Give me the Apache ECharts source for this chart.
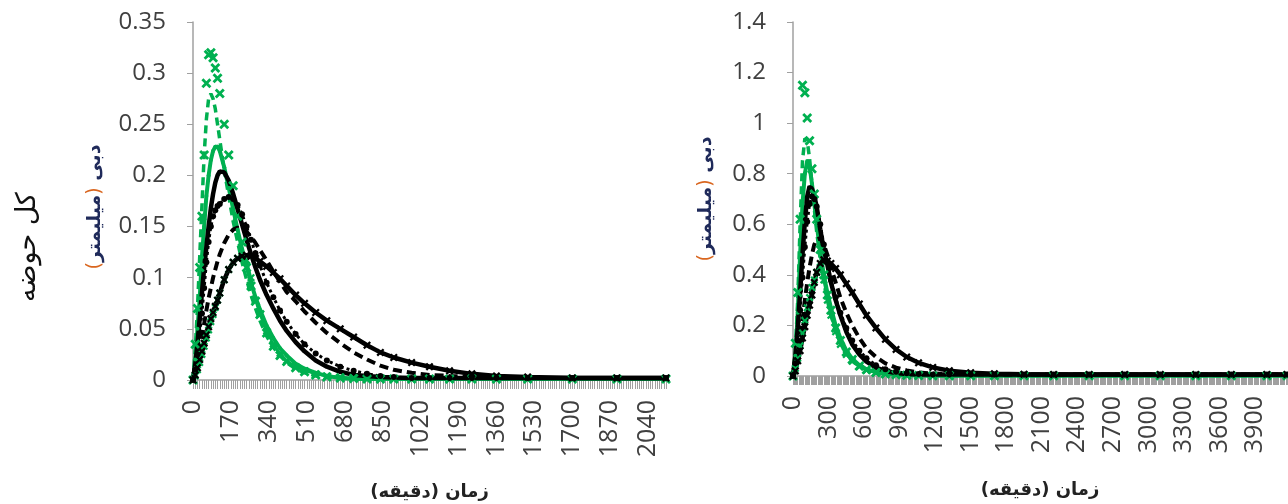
<!DOCTYPE html>
<html>
<head>
<meta charset="utf-8">
<script src="https://cdn.jsdelivr.net/npm/echarts@6/dist/echarts.min.js"></script>
<style>
html,body{margin:0;padding:0;background:#fff;}
#chart{width:1288px;height:504px;}
</style>
</head>
<body>
<div id="chart"></div>
<script>
// ---------- DATA ----------
// left panel (whole basin 1) – time in minutes
const TIME_L = [0,10,20,30,40,50,60,70,80,90,100,110,120,140,160,180,200,220,240,260,280,300,330,360,390,420,460,500,550,600,660,720,780,840,900,980,1060,1150,1250,1360,1500,1700,1900,2120];
const L_GREEN_X    = [0,0.035,0.07,0.11,0.16,0.22,0.29,0.318,0.32,0.315,0.305,0.295,0.28,0.25,0.22,0.19,0.16,0.135,0.11,0.092,0.077,0.064,0.046,0.033,0.024,0.018,0.012,0.008,0.005,0.003,0.002,0.0015,0.001,0.001,0.001,0.001,0.001,0.001,0.001,0.001,0.001,0.001,0.001,0.001];
const L_GREEN_DASH = [0,0.03,0.07,0.12,0.17,0.22,0.255,0.275,0.28,0.275,0.265,0.25,0.235,0.205,0.18,0.155,0.135,0.115,0.098,0.083,0.07,0.058,0.043,0.032,0.024,0.017,0.011,0.007,0.004,0.003,0.002,0.001,0.001,0.001,0.001,0.001,0.001,0.001,0.001,0.001,0.001,0.001,0.001,0.001];
const L_GREEN_LINE = [0,0.02,0.05,0.08,0.12,0.15,0.18,0.2,0.215,0.224,0.228,0.228,0.224,0.208,0.188,0.167,0.147,0.128,0.111,0.095,0.081,0.069,0.053,0.041,0.031,0.024,0.016,0.011,0.007,0.004,0.002,0.001,0.001,0.001,0.001,0.001,0.001,0.001,0.001,0.001,0.001,0.001,0.001,0.001];
const L_GREEN_LOW  = [0,0.004,0.01,0.017,0.025,0.033,0.041,0.049,0.057,0.064,0.071,0.078,0.085,0.098,0.108,0.115,0.119,0.12,0.117,0.1,0.078,0.064,0.048,0.035,0.026,0.019,0.013,0.009,0.006,0.004,0.003,0.002,0.001,0.001,0.001,0.001,0.001,0.001,0.001,0.001,0.001,0.001,0.001,0.001];
const L_BLACK_LINE = [0,0.015,0.035,0.06,0.085,0.11,0.13,0.15,0.168,0.182,0.193,0.2,0.204,0.203,0.195,0.182,0.167,0.152,0.137,0.123,0.11,0.098,0.083,0.07,0.058,0.048,0.037,0.028,0.019,0.013,0.008,0.005,0.004,0.003,0.0025,0.002,0.002,0.002,0.002,0.002,0.002,0.002,0.002,0.002];
const L_BLACK_DOT  = [0,0.01,0.025,0.045,0.065,0.09,0.115,0.135,0.15,0.16,0.166,0.17,0.172,0.177,0.179,0.177,0.171,0.162,0.15,0.137,0.124,0.112,0.095,0.081,0.068,0.057,0.045,0.035,0.026,0.019,0.013,0.009,0.006,0.004,0.003,0.002,0.002,0.002,0.002,0.002,0.002,0.002,0.002,0.002];
const L_BLACK_DASH = [0,0.008,0.018,0.03,0.042,0.055,0.068,0.08,0.09,0.1,0.108,0.116,0.123,0.134,0.142,0.147,0.149,0.148,0.145,0.14,0.134,0.127,0.117,0.106,0.096,0.086,0.077,0.067,0.056,0.046,0.036,0.027,0.02,0.014,0.01,0.007,0.005,0.004,0.003,0.002,0.002,0.002,0.002,0.002];
const L_BLACK_X    = [0,0.005,0.012,0.02,0.028,0.036,0.044,0.052,0.06,0.066,0.072,0.078,0.085,0.098,0.108,0.115,0.119,0.121,0.122,0.121,0.119,0.116,0.111,0.105,0.099,0.092,0.083,0.075,0.066,0.058,0.05,0.042,0.034,0.027,0.022,0.017,0.013,0.009,0.006,0.004,0.003,0.002,0.002,0.002];

// right panel
const TIME_R = [0,20,40,60,80,100,120,140,160,180,200,230,260,290,320,360,400,450,500,560,620,700,780,870,960,1060,1180,1320,1500,1700,1950,2200,2500,2800,3100,3400,3700,4000,4170];
const R_GREEN_X    = [0,0.13,0.33,0.62,1.15,1.12,1.02,0.93,0.82,0.72,0.62,0.5,0.4,0.32,0.26,0.19,0.14,0.095,0.065,0.04,0.025,0.014,0.008,0.005,0.003,0.002,0.001,0.001,0.001,0.001,0.001,0.001,0.001,0.001,0.001,0.001,0.001,0.001,0.001];
const R_GREEN_DASH = [0,0.1,0.3,0.6,0.85,0.94,0.93,0.86,0.76,0.66,0.57,0.46,0.37,0.3,0.24,0.18,0.13,0.09,0.06,0.038,0.024,0.013,0.008,0.005,0.003,0.002,0.001,0.001,0.001,0.001,0.001,0.001,0.001,0.001,0.001,0.001,0.001,0.001,0.001];
const R_GREEN_LINE = [0,0.08,0.25,0.48,0.68,0.8,0.85,0.83,0.76,0.68,0.6,0.49,0.4,0.33,0.27,0.2,0.15,0.1,0.068,0.043,0.027,0.015,0.009,0.005,0.003,0.002,0.001,0.001,0.001,0.001,0.001,0.001,0.001,0.001,0.001,0.001,0.001,0.001,0.001];
const R_GREEN_LOW  = [0,0.03,0.07,0.12,0.17,0.22,0.27,0.31,0.35,0.38,0.41,0.43,0.38,0.3,0.24,0.175,0.125,0.085,0.058,0.037,0.023,0.013,0.008,0.005,0.003,0.002,0.001,0.001,0.001,0.001,0.001,0.001,0.001,0.001,0.001,0.001,0.001,0.001,0.001];
const R_BLACK_LINE = [0,0.08,0.19,0.33,0.48,0.61,0.71,0.75,0.74,0.71,0.67,0.58,0.5,0.44,0.37,0.3,0.24,0.175,0.125,0.085,0.057,0.033,0.02,0.012,0.008,0.006,0.006,0.006,0.006,0.006,0.006,0.006,0.006,0.006,0.006,0.006,0.006,0.006,0.006];
const R_BLACK_DOT  = [0,0.05,0.14,0.26,0.39,0.51,0.61,0.68,0.71,0.7,0.67,0.6,0.52,0.45,0.38,0.31,0.25,0.19,0.14,0.1,0.07,0.043,0.027,0.017,0.011,0.008,0.006,0.006,0.006,0.006,0.006,0.006,0.006,0.006,0.006,0.006,0.006,0.006,0.006];
const R_BLACK_DASH = [0,0.03,0.08,0.15,0.22,0.3,0.37,0.43,0.48,0.52,0.54,0.545,0.52,0.48,0.43,0.37,0.31,0.25,0.2,0.15,0.11,0.075,0.05,0.033,0.022,0.014,0.01,0.008,0.007,0.006,0.006,0.006,0.006,0.006,0.006,0.006,0.006,0.006,0.006];
const R_BLACK_X    = [0,0.02,0.06,0.1,0.15,0.195,0.24,0.28,0.32,0.37,0.41,0.445,0.46,0.455,0.445,0.425,0.4,0.365,0.33,0.285,0.24,0.19,0.145,0.105,0.075,0.052,0.034,0.021,0.013,0.009,0.007,0.006,0.006,0.006,0.006,0.006,0.006,0.006,0.006];

// axis categories (minutes, 10-minute steps)
const CAT_L = []; for (let t = 0; t <= 2120; t += 10) CAT_L.push(String(t));
const CAT_R = []; for (let t = 0; t <= 4170; t += 10) CAT_R.push(String(t));

const Y_NAME = '{p|(}{a|میلیمتر}{p|)}{a| دبی}';
const X_NAME = 'زمان (دقیقه)\u200F';
const SIDE_TITLE = 'کل حوضه';

// ---------- STYLE ----------
const GREEN = '#00b050';
const BLACK = '#000000';
const AXIS = '#a0a0a0';
const CROSS = 'path://M0,2L2,0L5,3L8,0L10,2L7,5L10,8L8,10L5,7L2,10L0,8L3,5Z';

function mk(times, vals, idx, st) {
  return Object.assign({
    type: 'line', xAxisIndex: idx, yAxisIndex: idx,
    data: times.map((t, i) => [String(t), vals[i]]),
    showAllSymbol: true, animation: false, silent: true
  }, st);
}
const S = {
  gx:   {symbol: CROSS, symbolSize: 10, itemStyle: {color: GREEN}, lineStyle: {opacity: 0}},
  gd:   {symbol: 'none', lineStyle: {color: GREEN, width: 3.5, type: [8, 5]}},
  gl:   {symbol: 'circle', symbolSize: 4, itemStyle: {color: GREEN}, lineStyle: {color: GREEN, width: 4}},
  glow: {symbol: CROSS, symbolSize: 8, itemStyle: {color: GREEN}, lineStyle: {color: GREEN, width: 2.5}},
  bl:   {symbol: 'none', lineStyle: {color: BLACK, width: 4.5}},
  bdot: {symbol: 'circle', symbolSize: 6, itemStyle: {color: BLACK}, lineStyle: {color: BLACK, width: 3, type: 'dotted'}},
  bd:   {symbol: 'none', lineStyle: {color: BLACK, width: 4, type: [9, 5]}},
  bx:   {symbol: CROSS, symbolSize: 8, itemStyle: {color: BLACK}, lineStyle: {color: BLACK, width: 4.5}}
};

function xAxisCfg(idx, cats, labInt, gap) {
  return {
    type: 'category', gridIndex: idx, data: cats, boundaryGap: false,
    axisLine: {show: true, lineStyle: {color: AXIS, width: 1.5}},
    axisTick: {show: true, interval: 0, length: 9, lineStyle: {color: AXIS, width: 1}},
    axisLabel: {interval: labInt, rotate: 90, fontSize: 25, color: '#404040', margin: 20, fontFamily: 'Open Sans'},
    splitLine: {show: false},
    name: X_NAME, nameLocation: 'middle', nameGap: gap, nameMoveOverlap: false,
    nameTextStyle: {fontFamily: 'DejaVu Sans', fontSize: 18, fontWeight: 'bold', color: '#222'}
  };
}
function yAxisCfg(idx, max, step, gap, pad) {
  return {
    type: 'value', gridIndex: idx, min: 0, max: max, interval: step,
    axisLine: {show: true, lineStyle: {color: AXIS, width: 1.5}},
    axisTick: {show: true, length: 6, lineStyle: {color: AXIS}},
    splitLine: {show: false},
    axisLabel: {fontSize: 24, color: '#404040', margin: 27, fontFamily: 'Open Sans'},
    name: Y_NAME, nameLocation: 'middle', nameGap: gap, nameMoveOverlap: false,
    nameTextStyle: {
      fontFamily: 'DejaVu Sans', fontSize: 19, color: '#1f2a5a', padding: pad,
      rich: {
        a: {fontFamily: 'DejaVu Sans', fontSize: 19, color: '#1f2a5a', fontWeight: 'bold'},
        p: {fontFamily: 'DejaVu Sans', fontSize: 19, color: '#d9661f'}
      }
    }
  };
}

const chart = echarts.init(document.getElementById('chart'), null, {renderer: 'canvas'});
chart.setOption({
  animation: false,
  backgroundColor: '#fff',
  grid: [
    {left: 193, top: 22, right: 622, bottom: 124, containLabel: false, outerBoundsMode: 'none'},
    {left: 793, top: 22, right: 1, bottom: 128, containLabel: false, outerBoundsMode: 'none'}
  ],
  xAxis: [xAxisCfg(0, CAT_L, 16, 103), xAxisCfg(1, CAT_R, 29, 105)],
  yAxis: [yAxisCfg(0, 0.35, 0.05, 88, [0, 12, 0, 0]), yAxisCfg(1, 1.4, 0.2, 77, [0, 0, 0, 0])],
  graphic: [{
    type: 'text', x: 28, y: 247, rotation: Math.PI / 2,
    style: {text: SIDE_TITLE, fontFamily: 'DejaVu Sans', fontSize: 27, fill: '#111', align: 'center', verticalAlign: 'middle'}
  }],
  series: [
    mk(TIME_L, L_GREEN_LOW, 0, S.glow),
    mk(TIME_L, L_GREEN_LINE, 0, S.gl),
    mk(TIME_L, L_GREEN_DASH, 0, S.gd),
    mk(TIME_L, L_GREEN_X, 0, S.gx),
    mk(TIME_L, L_BLACK_X, 0, S.bx),
    mk(TIME_L, L_BLACK_DASH, 0, S.bd),
    mk(TIME_L, L_BLACK_DOT, 0, S.bdot),
    mk(TIME_L, L_BLACK_LINE, 0, S.bl),
    mk(TIME_R, R_GREEN_LOW, 1, S.glow),
    mk(TIME_R, R_GREEN_LINE, 1, S.gl),
    mk(TIME_R, R_GREEN_DASH, 1, S.gd),
    mk(TIME_R, R_GREEN_X, 1, S.gx),
    mk(TIME_R, R_BLACK_X, 1, S.bx),
    mk(TIME_R, R_BLACK_DASH, 1, S.bd),
    mk(TIME_R, R_BLACK_DOT, 1, S.bdot),
    mk(TIME_R, R_BLACK_LINE, 1, S.bl)
  ]
});
</script>
</body>
</html>
